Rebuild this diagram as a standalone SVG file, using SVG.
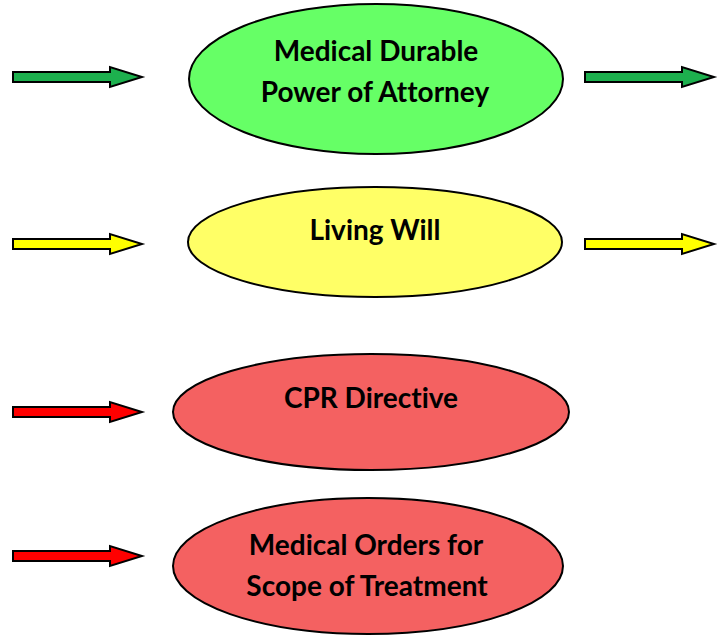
<svg xmlns="http://www.w3.org/2000/svg" xmlns:xlink="http://www.w3.org/1999/xlink" width="720" height="637" viewBox="0 0 720 637">
<style>
  .node { stroke: #000; stroke-width: 2; }
  .label { font-family: "Lato", "Open Sans", "Liberation Sans", sans-serif; font-weight: bold; font-size: 28px; fill: #000; text-anchor: middle; font-variant-ligatures: none; }
  .arrow { stroke: #000; stroke-width: 2; stroke-linejoin: miter; }
  .green-a { fill: #1DB04E; }
  .yellow-a { fill: #FFFF00; }
  .red-a { fill: #FF0000; }
</style>
<defs>
  <path id="arr" d="M0,-5 H97 V-10 L129,0 L97,10 V5 H0 Z"/>
</defs>
<rect width="720" height="637" fill="#ffffff"/>
<g id="connectors">
  <use xlink:href="#arr" class="arrow green-a" transform="translate(13,77)"/>
  <use xlink:href="#arr" class="arrow green-a" transform="translate(585,77)"/>
  <use xlink:href="#arr" class="arrow yellow-a" transform="translate(13,244)"/>
  <use xlink:href="#arr" class="arrow yellow-a" transform="translate(585,244)"/>
  <use xlink:href="#arr" class="arrow red-a" transform="translate(13,412)"/>
  <use xlink:href="#arr" class="arrow red-a" transform="translate(13,556)"/>
</g>
<g id="node-mdpoa">
  <ellipse class="node" cx="376" cy="79" rx="187" ry="75" fill="#66FF66"/>
  <text class="label" x="376" y="61">Medical Durable</text>
  <text class="label" x="375" y="102">Power of Attorney</text>
</g>
<g id="node-living-will">
  <ellipse class="node" cx="375" cy="242" rx="187" ry="55" fill="#FFFF66"/>
  <text class="label" x="375" y="240">Living Will</text>
</g>
<g id="node-cpr">
  <ellipse class="node" cx="371" cy="412" rx="198" ry="58" fill="#F46161"/>
  <text class="label" x="371" y="408">CPR Directive</text>
</g>
<g id="node-most">
  <ellipse class="node" cx="368" cy="566" rx="195" ry="68" fill="#F46161"/>
  <text class="label" x="366" y="555">Medical Orders for</text>
  <text class="label" x="367" y="596">Scope of Treatment</text>
</g>
</svg>
